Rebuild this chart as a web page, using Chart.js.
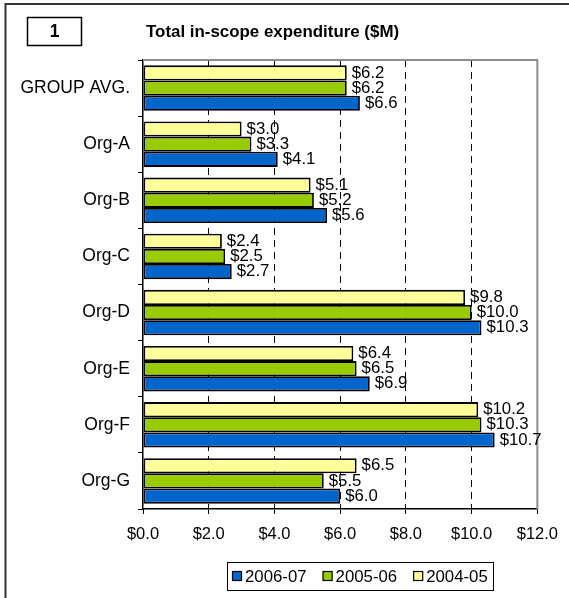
<!DOCTYPE html>
<html>
<head>
<meta charset="utf-8">
<title>Total in-scope expenditure</title>
<script src="https://cdn.jsdelivr.net/npm/chart.js@4.4.1/dist/chart.umd.min.js"></script>
<style>
  html, body { margin: 0; padding: 0; background: #fff; }
  #wrap { width: 569px; height: 598px; position: relative; }
</style>
</head>
<body>
<div id="wrap"><canvas id="expChart"></canvas></div>
<script>
// Datos del gráfico
const categories = ['GROUP AVG.', 'Org-A', 'Org-B', 'Org-C', 'Org-D', 'Org-E', 'Org-F', 'Org-G'];
const fy0405 = [6.2, 3.0, 5.1, 2.4, 9.8, 6.4, 10.2, 6.5];
const fy0506 = [6.2, 3.3, 5.2, 2.5, 10.0, 6.5, 10.3, 5.5];
const fy0607 = [6.6, 4.1, 5.6, 2.7, 10.3, 6.9, 10.7, 6.0];
const xTicks = [0, 2, 4, 6, 8, 10, 12];
const chartTitle = 'Total in-scope expenditure ($M)';
const chartNumber = '1';

const FONT = "'Liberation Sans', Arial, sans-serif";
const money = v => '$' + Number(v).toFixed(1);

// Etiquetas de valor al final de cada barra
const valueLabels = {
    id: 'valueLabels',
    afterDatasetsDraw(chart) {
        const ctx = chart.ctx;
        ctx.save();
        ctx.font = '16.8px ' + FONT;
        ctx.fillStyle = '#000';
        ctx.textAlign = 'left';
        ctx.textBaseline = 'middle';
        chart.data.datasets.forEach((ds, i) => {
            chart.getDatasetMeta(i).data.forEach((bar, j) => {
                ctx.fillText(money(ds.data[j]), bar.x + 5, bar.y);
            });
        });
        ctx.restore();
    }
};

// Marco, título, borde gris del área y leyenda
const decorations = {
    id: 'decorations',
    beforeDatasetsDraw(chart) {
        const { ctx, chartArea: a } = chart;
        ctx.save();
        ctx.strokeStyle = '#8c8c8c';
        ctx.lineWidth = 2;
        ctx.beginPath();
        ctx.moveTo(a.left, a.top);
        ctx.lineTo(a.right, a.top);
        ctx.lineTo(a.right, a.bottom);
        ctx.stroke();
        ctx.restore();
    },
    afterDraw(chart) {
        const ctx = chart.ctx;
        ctx.save();
        // marco exterior
        ctx.strokeStyle = '#333';
        ctx.lineWidth = 2;
        ctx.beginPath();
        ctx.moveTo(5.5, 598);
        ctx.lineTo(5.5, 4);
        ctx.lineTo(569, 4);
        ctx.stroke();

        // caja con el número
        ctx.strokeStyle = '#000';
        ctx.lineWidth = 1.5;
        ctx.strokeRect(27.5, 17.5, 54, 28);
        ctx.fillStyle = '#000';
        ctx.font = 'bold 17.5px ' + FONT;
        ctx.textAlign = 'center';
        ctx.textBaseline = 'middle';
        ctx.fillText(chartNumber, 54.5, 32);

        // título
        ctx.font = 'bold 16.9px ' + FONT;
        ctx.textAlign = 'left';
        ctx.fillText(chartTitle, 146, 32);

        // leyenda (orden inverso al de las barras)
        ctx.font = '16.8px ' + FONT;
        const items = chart.data.datasets.slice().reverse();
        let x = 232;
        const y = 576;
        items.forEach(ds => {
            ctx.fillStyle = ds.backgroundColor;
            ctx.fillRect(x, y - 5, 10, 10);
            ctx.strokeStyle = '#000';
            ctx.lineWidth = 1.2;
            ctx.strokeRect(x + 0.5, y - 4.5, 9, 9);
            ctx.fillStyle = '#000';
            ctx.fillText(ds.label, x + 13, y + 1);
            x += 13 + ctx.measureText(ds.label).width + 16;
        });
        ctx.strokeStyle = '#000';
        ctx.lineWidth = 1;
        ctx.strokeRect(227.5, 562.5, 266, 28);
        ctx.restore();
    }
};

const ctx = document.getElementById('expChart').getContext('2d');
const expChart = new Chart(ctx, {
    type: 'bar',
    data: {
        labels: categories,
        datasets: [
            { label: '2004-05', data: fy0405, backgroundColor: '#FFFF99' },
            { label: '2005-06', data: fy0506, backgroundColor: '#99CC00' },
            { label: '2006-07', data: fy0607, backgroundColor: '#0066CC' }
        ]
    },
    options: {
        indexAxis: 'y',
        responsive: true,
        maintainAspectRatio: false,
        animation: false,
        layout: { padding: { top: 60, right: 31, bottom: 49, left: 0 } },
        datasets: {
            bar: {
                categoryPercentage: 0.81,
                barPercentage: 1.0,
                borderColor: '#000',
                borderWidth: 1.8,
                borderSkipped: false
            }
        },
        plugins: {
            legend: { display: false },
            title: { display: false },
            tooltip: { enabled: false }
        },
        scales: {
            x: {
                min: 0,
                max: 12,
                afterBuildTicks: s => { s.ticks = xTicks.map(v => ({ value: v })); },
                afterFit: s => { s.height = 40; },
                ticks: {
                    color: '#000',
                    padding: 11,
                    maxRotation: 0,
                    font: { family: FONT, size: 16.5 },
                    callback: v => money(v)
                },
                grid: {
                    color: c => (c.tick && (c.tick.value === 0 || c.tick.value === 12)) ? 'rgba(0,0,0,0)' : '#000',
                    lineWidth: 1,
                    tickColor: '#000',
                    tickLength: 5
                },
                border: { color: '#000', width: 1.5, dash: [7, 5] }
            },
            y: {
                afterFit: s => { s.width = 143; },
                ticks: {
                    color: '#000',
                    padding: 8,
                    font: { family: FONT, size: 17.5 }
                },
                grid: {
                    drawOnChartArea: false,
                    tickColor: '#000',
                    tickLength: 5
                },
                border: { color: '#000', width: 1.5 }
            }
        }
    },
    plugins: [valueLabels, decorations]
});
</script>
</body>
</html>
